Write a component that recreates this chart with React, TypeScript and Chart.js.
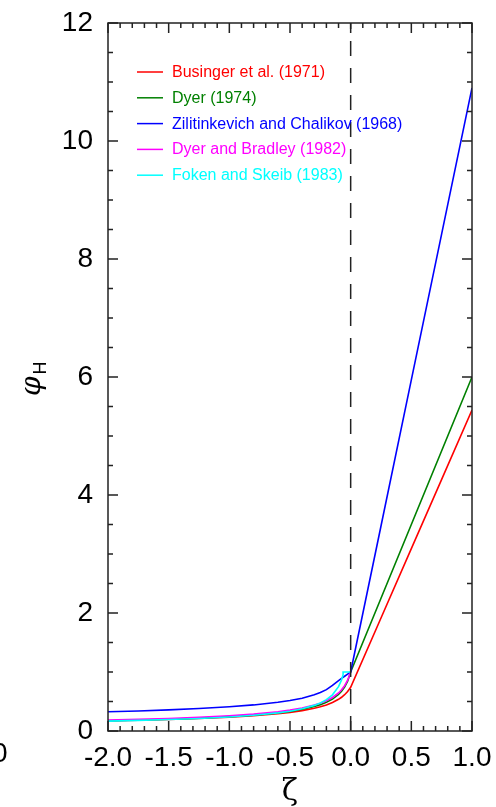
import React, { useEffect, useRef } from "react";
import { Chart, registerables } from "chart.js";

Chart.register(...registerables);

// ζ grid used for the curves
const zetaFull = [-2.0, -1.75, -1.5, -1.25, -1.0, -0.8, -0.6, -0.5, -0.4, -0.3, -0.25, -0.2, -0.15, -0.1, -0.075, -0.05, -0.025, 0, 0.25, 0.5, 0.75, 1.0];
const zetaUnstable = [-2.0, -1.75, -1.5, -1.25, -1.0, -0.8, -0.6, -0.5, -0.4, -0.3, -0.25, -0.2, -0.15, -0.1, -0.075, -0.05, -0.025, 0];
const zetaFoken = [-2.0, -1.75, -1.5, -1.25, -1.0, -0.8, -0.6, -0.5, -0.4, -0.3, -0.25, -0.2, -0.15, -0.1, -0.075, -0.0625, -0.0625, 0];

const phiBusinger = [0.170, 0.181, 0.194, 0.211, 0.234, 0.258, 0.292, 0.316, 0.345, 0.385, 0.410, 0.442, 0.483, 0.537, 0.572, 0.615, 0.669, 0.740, 1.915, 3.090, 4.265, 5.440];
const phiDyer = [0.174, 0.186, 0.200, 0.218, 0.243, 0.269, 0.307, 0.333, 0.368, 0.415, 0.447, 0.488, 0.542, 0.620, 0.674, 0.745, 0.845, 1.000, 2.250, 3.500, 4.750, 6.000];
const phiZilitinkevich = [0.325, 0.340, 0.358, 0.381, 0.410, 0.442, 0.486, 0.517, 0.556, 0.613, 0.651, 0.701, 0.772, 0.855, 0.891, 0.928, 0.964, 1.000, 3.475, 5.950, 8.425, 10.900];
const phiDyerBradley = [0.186, 0.198, 0.213, 0.232, 0.258, 0.286, 0.326, 0.354, 0.389, 0.439, 0.471, 0.513, 0.568, 0.645, 0.698, 0.767, 0.861, 1.000];
const phiFoken = [0.168, 0.180, 0.194, 0.212, 0.238, 0.266, 0.307, 0.336, 0.376, 0.434, 0.475, 0.531, 0.613, 0.751, 0.867, 0.950, 1.000, 1.000];

const dashX = [0, 0];
const dashY = [0, 12];

const seriesNames = [
  "Businger et al. (1971)",
  "Dyer (1974)",
  "Zilitinkevich and Chalikov (1968)",
  "Dyer and Bradley (1982)",
  "Foken and Skeib (1983)",
];
const seriesColors = ["#ff0000", "#008000", "#0000ff", "#ff00ff", "#00ffff"];

const xTickMin = -2;
const xTickMax = 1;
const yTickMin = 0;
const yTickMax = 12;

const FONT = "'Liberation Sans', Arial, Helvetica, sans-serif";

function pts(xs: number[], ys: number[]) {
  return xs.map((x, i) => ({ x, y: ys[i] }));
}

function zeroPad(s: any) {
  s.paddingTop = 0;
  s.paddingBottom = 0;
  s.paddingLeft = 0;
  s.paddingRight = 0;
}

const framePlugin = {
  id: "frameTicks",
  afterDraw(chart: any) {
    const { ctx, chartArea, scales } = chart;
    const { left, right, top, bottom } = chartArea;
    const xs = scales.x;
    const ys = scales.y;
    ctx.save();
    ctx.strokeStyle = "#222";
    ctx.lineWidth = 1.5;
    ctx.strokeRect(left, top, right - left, bottom - top);
    ctx.beginPath();
    for (let i = -20; i <= 10; i++) {
      const px = xs.getPixelForValue(i / 10);
      const len = i % 5 === 0 ? 10 : 5;
      ctx.moveTo(px, bottom);
      ctx.lineTo(px, bottom - len);
      ctx.moveTo(px, top);
      ctx.lineTo(px, top + len);
    }
    for (let i = 0; i <= 24; i++) {
      const py = ys.getPixelForValue(i / 2);
      const len = i % 4 === 0 ? 10 : 5;
      ctx.moveTo(left, py);
      ctx.lineTo(left + len, py);
      ctx.moveTo(right, py);
      ctx.lineTo(right - len, py);
    }
    ctx.stroke();

    // legend
    ctx.font = `16px ${FONT}`;
    ctx.textBaseline = "middle";
    ctx.textAlign = "left";
    const y0 = 72;
    const step = 25.8;
    seriesNames.forEach((name, i) => {
      const y = y0 + i * step;
      ctx.strokeStyle = seriesColors[i];
      ctx.lineWidth = 1.5;
      ctx.beginPath();
      ctx.moveTo(137, y);
      ctx.lineTo(163, y);
      ctx.stroke();
      ctx.fillStyle = seriesColors[i];
      ctx.fillText(name, 172, y + 0.5);
    });

    // axis titles
    ctx.fillStyle = "#000";
    ctx.font = "30px 'DejaVu Serif', serif";
    ctx.textAlign = "center";
    ctx.textBaseline = "alphabetic";
    ctx.fillText("ζ", (left + right) / 2, 800);

    ctx.save();
    ctx.translate(40, 396);
    ctx.rotate(-Math.PI / 2);
    ctx.textAlign = "left";
    ctx.font = "italic 28px 'DejaVu Serif', serif";
    ctx.fillText("φ", 0, 0);
    const w = ctx.measureText("φ").width;
    ctx.font = `18px ${FONT}`;
    ctx.fillText("H", w + 2, 6);
    ctx.restore();

    // cropped label of neighbouring panel
    ctx.font = `28px ${FONT}`;
    ctx.textAlign = "left";
    ctx.textBaseline = "middle";
    ctx.fillText("0", -8, 754);
    ctx.restore();
  },
};

export default function App() {
  const ref = useRef<HTMLCanvasElement | null>(null);
  useEffect(() => {
    if (!ref.current) return;
    const lw = 1.6;
    const chart = new Chart(ref.current, {
      type: "line",
      data: {
        datasets: [
          { label: "zero", data: pts(dashX, dashY), borderColor: "#222", borderWidth: 1.5, borderDash: [15, 12], pointRadius: 0 },
          { label: seriesNames[4], data: pts(zetaFoken, phiFoken), borderColor: seriesColors[4], borderWidth: lw, pointRadius: 0 },
          { label: seriesNames[3], data: pts(zetaUnstable, phiDyerBradley), borderColor: seriesColors[3], borderWidth: lw, pointRadius: 0 },
          { label: seriesNames[2], data: pts(zetaFull, phiZilitinkevich), borderColor: seriesColors[2], borderWidth: lw, pointRadius: 0 },
          { label: seriesNames[1], data: pts(zetaFull, phiDyer), borderColor: seriesColors[1], borderWidth: lw, pointRadius: 0 },
          { label: seriesNames[0], data: pts(zetaFull, phiBusinger), borderColor: seriesColors[0], borderWidth: lw, pointRadius: 0 },
        ],
      },
      options: {
        animation: false,
        responsive: false,
        devicePixelRatio: 1,
        layout: { padding: { left: 0, right: 24, top: 23, bottom: 0 } },
        plugins: { legend: { display: false }, tooltip: { enabled: false } },
        elements: { line: { tension: 0 } },
        scales: {
          x: {
            type: "linear",
            min: xTickMin,
            max: xTickMax,
            grid: { display: false, drawTicks: false },
            border: { display: false },
            ticks: {
              stepSize: 0.5,
              color: "#000",
              padding: 10,
              maxRotation: 0,
              autoSkip: false,
              font: { family: FONT, size: 28 },
              callback: (v: any) => Number(v).toFixed(1),
            },
            afterFit: (s: any) => { s.height = 76; zeroPad(s); },
          },
          y: {
            type: "linear",
            min: yTickMin,
            max: yTickMax,
            grid: { display: false, drawTicks: false },
            border: { display: false },
            ticks: {
              stepSize: 2,
              color: "#000",
              padding: 15,
              autoSkip: false,
              font: { family: FONT, size: 28 },
            },
            afterFit: (s: any) => { s.width = 108; zeroPad(s); },
          },
        },
      },
      plugins: [framePlugin],
    } as any);
    return () => chart.destroy();
  }, []);
  return (
    <div style={{ position: "absolute", left: 0, top: 0, width: 496, height: 807, background: "#fff" }}>
      <canvas ref={ref} width={496} height={807} style={{ display: "block" }} />
    </div>
  );
}
